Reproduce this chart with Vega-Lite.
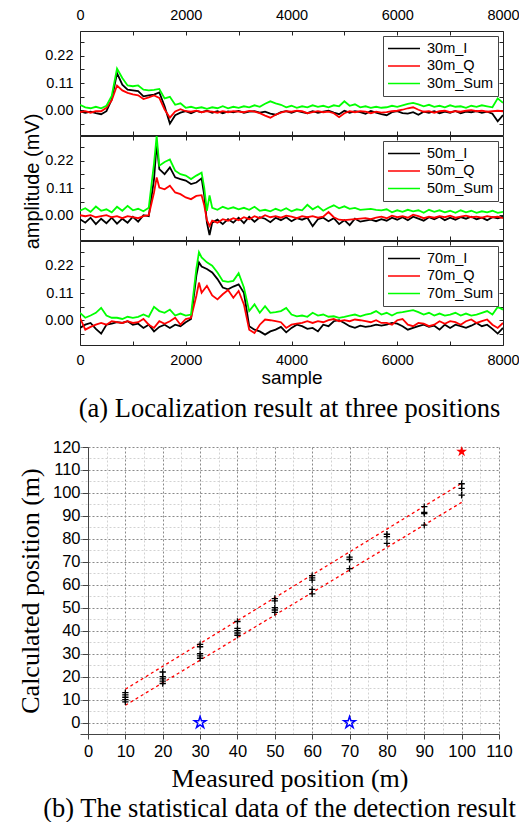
{
"$schema": "https://vega.github.io/schema/vega-lite/v6.json",
"background": "white",
"padding": {"left": 17, "top": 6, "right": 0, "bottom": 0},
"config": {
  "view": {"stroke": "#222", "strokeWidth": 1},
  "axis": {"labelFont": "Liberation Sans", "titleFont": "Liberation Sans", "labelColor": "#000", "titleColor": "#000", "tickColor": "#222", "domainColor": "#333", "titleFontWeight": "normal", "grid": false, "labelFlush": false, "labelOverlap": false},
  "legend": {"orient": "top-right", "offset": 5, "padding": 4, "strokeColor": "#444", "fillColor": "white", "labelFont": "Liberation Sans", "labelFontSize": 14.5, "labelColor": "#000", "symbolType": "stroke", "symbolSize": 1024, "symbolStrokeWidth": 1.5, "clipHeight": 17, "rowPadding": 0.5, "labelOffset": 6}
},
"title": {"text": "(b) The statistical data of the detection result", "orient": "bottom", "anchor": "middle", "font": "Liberation Serif", "fontSize": 26.5, "fontWeight": "normal", "color": "#000", "offset": 4, "dx": 11},
"resolve": {"scale": {"x": "independent", "y": "independent", "color": "independent"}},
"spacing": 7,
"vconcat": [
{
"spacing": 1,
"bounds": "flush",
"resolve": {"scale": {"x": "independent", "y": "independent", "color": "independent"}},
"vconcat": [
{
 "width": 423, "height": 104,
 "data": {"values": [
{"s":0,"30m_I":-0.004,"30m_Q":-0.008,"30m_Sum":0.022},
{"s":100,"30m_I":-0.010,"30m_Q":-0.004,"30m_Sum":0.012},
{"s":200,"30m_I":-0.006,"30m_Q":-0.010,"30m_Sum":0.008},
{"s":300,"30m_I":-0.012,"30m_Q":-0.004,"30m_Sum":0.014},
{"s":400,"30m_I":-0.016,"30m_Q":-0.004,"30m_Sum":0.008},
{"s":500,"30m_I":-0.004,"30m_Q":0.010,"30m_Sum":0.018},
{"s":600,"30m_I":0.043,"30m_Q":0.040,"30m_Sum":0.058},
{"s":700,"30m_I":0.150,"30m_Q":0.100,"30m_Sum":0.168},
{"s":800,"30m_I":0.103,"30m_Q":0.080,"30m_Sum":0.130},
{"s":900,"30m_I":0.083,"30m_Q":0.070,"30m_Sum":0.100},
{"s":1000,"30m_I":0.080,"30m_Q":0.064,"30m_Sum":0.097},
{"s":1100,"30m_I":0.077,"30m_Q":0.060,"30m_Sum":0.100},
{"s":1200,"30m_I":0.056,"30m_Q":0.045,"30m_Sum":0.083},
{"s":1300,"30m_I":0.060,"30m_Q":0.052,"30m_Sum":0.080},
{"s":1400,"30m_I":0.063,"30m_Q":0.060,"30m_Sum":0.082},
{"s":1500,"30m_I":0.072,"30m_Q":0.050,"30m_Sum":0.086},
{"s":1600,"30m_I":0.016,"30m_Q":0.003,"30m_Sum":0.048},
{"s":1700,"30m_I":-0.054,"30m_Q":-0.030,"30m_Sum":0.054},
{"s":1800,"30m_I":-0.020,"30m_Q":-0.005,"30m_Sum":0.022},
{"s":1900,"30m_I":-0.010,"30m_Q":0.004,"30m_Sum":0.028},
{"s":2000,"30m_I":-0.004,"30m_Q":-0.004,"30m_Sum":0.010},
{"s":2100,"30m_I":-0.012,"30m_Q":-0.006,"30m_Sum":0.014},
{"s":2200,"30m_I":-0.003,"30m_Q":-0.002,"30m_Sum":0.008},
{"s":2300,"30m_I":-0.008,"30m_Q":-0.008,"30m_Sum":0.012},
{"s":2400,"30m_I":-0.002,"30m_Q":-0.004,"30m_Sum":0.006},
{"s":2500,"30m_I":-0.010,"30m_Q":-0.006,"30m_Sum":0.012},
{"s":2600,"30m_I":-0.004,"30m_Q":-0.010,"30m_Sum":0.008},
{"s":2700,"30m_I":-0.012,"30m_Q":-0.004,"30m_Sum":0.016},
{"s":2800,"30m_I":-0.005,"30m_Q":-0.008,"30m_Sum":0.008},
{"s":2900,"30m_I":-0.008,"30m_Q":-0.004,"30m_Sum":0.014},
{"s":3000,"30m_I":-0.003,"30m_Q":-0.006,"30m_Sum":0.010},
{"s":3100,"30m_I":-0.010,"30m_Q":-0.008,"30m_Sum":0.016},
{"s":3200,"30m_I":-0.006,"30m_Q":-0.003,"30m_Sum":0.012},
{"s":3300,"30m_I":-0.004,"30m_Q":-0.006,"30m_Sum":0.020},
{"s":3400,"30m_I":-0.010,"30m_Q":-0.012,"30m_Sum":0.014},
{"s":3500,"30m_I":-0.006,"30m_Q":-0.022,"30m_Sum":0.026},
{"s":3600,"30m_I":-0.014,"30m_Q":-0.030,"30m_Sum":0.036},
{"s":3700,"30m_I":-0.018,"30m_Q":-0.018,"30m_Sum":0.028},
{"s":3800,"30m_I":-0.008,"30m_Q":-0.010,"30m_Sum":0.022},
{"s":3900,"30m_I":-0.004,"30m_Q":-0.004,"30m_Sum":0.012},
{"s":4000,"30m_I":-0.010,"30m_Q":-0.006,"30m_Sum":0.018},
{"s":4100,"30m_I":-0.003,"30m_Q":-0.002,"30m_Sum":0.010},
{"s":4200,"30m_I":-0.008,"30m_Q":-0.004,"30m_Sum":0.016},
{"s":4300,"30m_I":-0.012,"30m_Q":-0.012,"30m_Sum":0.012},
{"s":4400,"30m_I":-0.004,"30m_Q":-0.008,"30m_Sum":0.020},
{"s":4500,"30m_I":-0.010,"30m_Q":-0.004,"30m_Sum":0.014},
{"s":4600,"30m_I":-0.006,"30m_Q":-0.008,"30m_Sum":0.018},
{"s":4700,"30m_I":-0.002,"30m_Q":-0.006,"30m_Sum":0.012},
{"s":4800,"30m_I":-0.010,"30m_Q":-0.012,"30m_Sum":0.020},
{"s":4900,"30m_I":-0.016,"30m_Q":-0.028,"30m_Sum":0.016},
{"s":5000,"30m_I":-0.002,"30m_Q":-0.012,"30m_Sum":0.036},
{"s":5100,"30m_I":-0.010,"30m_Q":-0.004,"30m_Sum":0.018},
{"s":5200,"30m_I":-0.004,"30m_Q":-0.008,"30m_Sum":0.024},
{"s":5300,"30m_I":-0.008,"30m_Q":-0.004,"30m_Sum":0.012},
{"s":5400,"30m_I":-0.014,"30m_Q":-0.006,"30m_Sum":0.016},
{"s":5500,"30m_I":-0.003,"30m_Q":-0.012,"30m_Sum":0.010},
{"s":5600,"30m_I":-0.010,"30m_Q":-0.006,"30m_Sum":0.014},
{"s":5700,"30m_I":-0.016,"30m_Q":-0.010,"30m_Sum":0.010},
{"s":5800,"30m_I":-0.020,"30m_Q":-0.008,"30m_Sum":0.012},
{"s":5900,"30m_I":-0.008,"30m_Q":-0.004,"30m_Sum":0.018},
{"s":6000,"30m_I":-0.004,"30m_Q":-0.002,"30m_Sum":0.014},
{"s":6100,"30m_I":-0.012,"30m_Q":0.002,"30m_Sum":0.020},
{"s":6200,"30m_I":-0.014,"30m_Q":0.008,"30m_Sum":0.026},
{"s":6300,"30m_I":-0.008,"30m_Q":0.012,"30m_Sum":0.030},
{"s":6400,"30m_I":-0.018,"30m_Q":0.002,"30m_Sum":0.024},
{"s":6500,"30m_I":-0.006,"30m_Q":-0.006,"30m_Sum":0.016},
{"s":6600,"30m_I":-0.010,"30m_Q":-0.004,"30m_Sum":0.022},
{"s":6700,"30m_I":-0.004,"30m_Q":-0.010,"30m_Sum":0.014},
{"s":6800,"30m_I":-0.012,"30m_Q":-0.004,"30m_Sum":0.018},
{"s":6900,"30m_I":-0.006,"30m_Q":-0.002,"30m_Sum":0.012},
{"s":7000,"30m_I":-0.010,"30m_Q":-0.008,"30m_Sum":0.020},
{"s":7100,"30m_I":-0.003,"30m_Q":-0.004,"30m_Sum":0.014},
{"s":7200,"30m_I":-0.012,"30m_Q":-0.006,"30m_Sum":0.016},
{"s":7300,"30m_I":-0.006,"30m_Q":-0.002,"30m_Sum":0.010},
{"s":7400,"30m_I":-0.008,"30m_Q":0.000,"30m_Sum":0.018},
{"s":7500,"30m_I":-0.004,"30m_Q":-0.004,"30m_Sum":0.014},
{"s":7600,"30m_I":-0.010,"30m_Q":-0.002,"30m_Sum":0.020},
{"s":7700,"30m_I":-0.006,"30m_Q":-0.006,"30m_Sum":0.016},
{"s":7800,"30m_I":-0.014,"30m_Q":-0.004,"30m_Sum":0.012},
{"s":7900,"30m_I":-0.045,"30m_Q":-0.002,"30m_Sum":0.048},
{"s":8000,"30m_I":-0.020,"30m_Q":-0.004,"30m_Sum":0.030}
 ]},
 "transform": [{"fold": ["30m_I", "30m_Q", "30m_Sum"], "as": ["k", "v"]}],
 "layer": [
  {"mark": {"type": "line", "strokeWidth": 1.8, "clip": true},
   "encoding": {
    "x": {"field": "s", "type": "quantitative", "scale": {"domain": [0, 8000], "nice": false}, "axis": {"orient": "top", "values": [0,1000,2000,3000,4000,5000,6000,7000,8000], "labelExpr": "datum.value % 2000 === 0 ? format(datum.value, 'd') : ''", "labelOverlap": false, "tickSize": -4, "labelPadding": 13, "domain": false, "title": null, "labelFontSize": 14.5}},
    "y": {"field": "v", "type": "quantitative", "scale": {"domain": [-0.1, 0.32], "nice": false, "zero": false}, "axis": {"orient": "left", "values": [-0.055,0,0.055,0.11,0.165,0.22,0.275], "labelExpr": "round(datum.value*1000) % 110 === 0 ? format(datum.value, '.2f') : ''", "labelOverlap": false, "tickSize": -4, "labelPadding": 11, "domain": false, "title": null, "labelFontSize": 14.5}},
    "color": {"field": "k", "type": "nominal", "scale": {"domain": ["30m_I", "30m_Q", "30m_Sum"], "range": ["#000000", "#ff0000", "#00ff00"]}, "legend": {"title": null}}
   }},
  {"mark": {"type": "line", "opacity": 0},
   "encoding": {
    "x": {"field": "s", "type": "quantitative", "axis": {"orient": "bottom", "values": [0,1000,2000,3000,4000,5000,6000,7000,8000], "labels": false, "tickSize": -4, "domain": false, "title": null}},
    "y": {"field": "v", "type": "quantitative", "axis": {"orient": "right", "values": [-0.055,0,0.055,0.11,0.165,0.22,0.275], "labels": false, "tickSize": -4, "domain": false, "title": null}}
   }}
 ],
 "resolve": {"axis": {"x": "independent", "y": "independent"}}
},
{
 "width": 423, "height": 104,
 "data": {"values": [
{"s":0,"50m_I":-0.016,"50m_Q":0.000,"50m_Sum":0.018},
{"s":100,"50m_I":-0.030,"50m_Q":-0.004,"50m_Sum":0.028},
{"s":200,"50m_I":-0.010,"50m_Q":0.000,"50m_Sum":0.014},
{"s":300,"50m_I":-0.036,"50m_Q":-0.008,"50m_Sum":0.035},
{"s":400,"50m_I":-0.014,"50m_Q":-0.004,"50m_Sum":0.018},
{"s":500,"50m_I":-0.032,"50m_Q":0.000,"50m_Sum":0.024},
{"s":600,"50m_I":-0.010,"50m_Q":-0.008,"50m_Sum":0.012},
{"s":700,"50m_I":-0.034,"50m_Q":-0.004,"50m_Sum":0.034},
{"s":800,"50m_I":-0.014,"50m_Q":-0.012,"50m_Sum":0.018},
{"s":900,"50m_I":-0.030,"50m_Q":-0.004,"50m_Sum":0.038},
{"s":1000,"50m_I":-0.006,"50m_Q":-0.008,"50m_Sum":0.020},
{"s":1100,"50m_I":-0.026,"50m_Q":-0.012,"50m_Sum":0.026},
{"s":1200,"50m_I":0.000,"50m_Q":-0.004,"50m_Sum":0.016},
{"s":1300,"50m_I":-0.004,"50m_Q":0.000,"50m_Sum":0.030},
{"s":1400,"50m_I":0.146,"50m_Q":0.092,"50m_Sum":0.210},
{"s":1450,"50m_I":0.288,"50m_Q":0.153,"50m_Sum":0.320},
{"s":1500,"50m_I":0.186,"50m_Q":0.112,"50m_Sum":0.200},
{"s":1600,"50m_I":0.166,"50m_Q":0.105,"50m_Sum":0.215},
{"s":1700,"50m_I":0.193,"50m_Q":0.119,"50m_Sum":0.225},
{"s":1800,"50m_I":0.153,"50m_Q":0.092,"50m_Sum":0.180},
{"s":1900,"50m_I":0.146,"50m_Q":0.085,"50m_Sum":0.166},
{"s":2000,"50m_I":0.140,"50m_Q":0.072,"50m_Sum":0.160},
{"s":2100,"50m_I":0.126,"50m_Q":0.065,"50m_Sum":0.146},
{"s":2200,"50m_I":0.132,"50m_Q":0.078,"50m_Sum":0.160},
{"s":2300,"50m_I":0.149,"50m_Q":0.081,"50m_Sum":0.172},
{"s":2350,"50m_I":0.080,"50m_Q":0.040,"50m_Sum":0.110},
{"s":2400,"50m_I":-0.030,"50m_Q":-0.020,"50m_Sum":0.018},
{"s":2450,"50m_I":-0.080,"50m_Q":-0.043,"50m_Sum":0.080},
{"s":2500,"50m_I":-0.030,"50m_Q":-0.022,"50m_Sum":0.030},
{"s":2600,"50m_I":-0.018,"50m_Q":-0.030,"50m_Sum":0.022},
{"s":2700,"50m_I":-0.036,"50m_Q":-0.016,"50m_Sum":0.034},
{"s":2800,"50m_I":-0.016,"50m_Q":-0.022,"50m_Sum":0.026},
{"s":2900,"50m_I":-0.030,"50m_Q":-0.012,"50m_Sum":0.032},
{"s":3000,"50m_I":-0.010,"50m_Q":-0.020,"50m_Sum":0.024},
{"s":3100,"50m_I":-0.032,"50m_Q":-0.008,"50m_Sum":0.030},
{"s":3200,"50m_I":-0.006,"50m_Q":-0.016,"50m_Sum":0.022},
{"s":3300,"50m_I":-0.026,"50m_Q":-0.004,"50m_Sum":0.034},
{"s":3400,"50m_I":-0.008,"50m_Q":-0.012,"50m_Sum":0.018},
{"s":3500,"50m_I":-0.014,"50m_Q":0.000,"50m_Sum":0.022},
{"s":3600,"50m_I":-0.028,"50m_Q":-0.008,"50m_Sum":0.016},
{"s":3700,"50m_I":-0.010,"50m_Q":-0.004,"50m_Sum":0.026},
{"s":3800,"50m_I":-0.020,"50m_Q":-0.010,"50m_Sum":0.018},
{"s":3900,"50m_I":-0.008,"50m_Q":-0.002,"50m_Sum":0.028},
{"s":4000,"50m_I":-0.024,"50m_Q":-0.006,"50m_Sum":0.016},
{"s":4100,"50m_I":-0.012,"50m_Q":-0.012,"50m_Sum":0.024},
{"s":4200,"50m_I":-0.018,"50m_Q":-0.004,"50m_Sum":0.020},
{"s":4300,"50m_I":-0.010,"50m_Q":-0.008,"50m_Sum":0.042},
{"s":4400,"50m_I":-0.044,"50m_Q":-0.004,"50m_Sum":0.024},
{"s":4500,"50m_I":-0.016,"50m_Q":-0.010,"50m_Sum":0.036},
{"s":4600,"50m_I":-0.010,"50m_Q":-0.006,"50m_Sum":0.018},
{"s":4700,"50m_I":-0.024,"50m_Q":0.013,"50m_Sum":0.030},
{"s":4800,"50m_I":-0.012,"50m_Q":-0.008,"50m_Sum":0.040},
{"s":4900,"50m_I":-0.036,"50m_Q":-0.018,"50m_Sum":0.028},
{"s":5000,"50m_I":-0.020,"50m_Q":-0.020,"50m_Sum":0.036},
{"s":5100,"50m_I":-0.040,"50m_Q":-0.018,"50m_Sum":0.026},
{"s":5200,"50m_I":-0.014,"50m_Q":-0.016,"50m_Sum":0.030},
{"s":5300,"50m_I":-0.026,"50m_Q":-0.014,"50m_Sum":0.022},
{"s":5400,"50m_I":-0.022,"50m_Q":-0.012,"50m_Sum":0.024},
{"s":5500,"50m_I":-0.018,"50m_Q":-0.016,"50m_Sum":0.026},
{"s":5600,"50m_I":-0.024,"50m_Q":-0.010,"50m_Sum":0.022},
{"s":5700,"50m_I":-0.016,"50m_Q":-0.006,"50m_Sum":0.020},
{"s":5800,"50m_I":-0.022,"50m_Q":-0.012,"50m_Sum":0.024},
{"s":5900,"50m_I":-0.010,"50m_Q":-0.002,"50m_Sum":0.012},
{"s":6000,"50m_I":-0.018,"50m_Q":-0.008,"50m_Sum":0.020},
{"s":6100,"50m_I":-0.008,"50m_Q":-0.004,"50m_Sum":0.014},
{"s":6200,"50m_I":-0.020,"50m_Q":-0.010,"50m_Sum":0.022},
{"s":6300,"50m_I":-0.006,"50m_Q":0.002,"50m_Sum":0.016},
{"s":6400,"50m_I":-0.014,"50m_Q":-0.004,"50m_Sum":0.020},
{"s":6500,"50m_I":-0.022,"50m_Q":-0.012,"50m_Sum":0.010},
{"s":6600,"50m_I":-0.008,"50m_Q":-0.006,"50m_Sum":0.022},
{"s":6700,"50m_I":-0.016,"50m_Q":-0.010,"50m_Sum":0.014},
{"s":6800,"50m_I":-0.006,"50m_Q":-0.004,"50m_Sum":0.020},
{"s":6900,"50m_I":-0.020,"50m_Q":-0.008,"50m_Sum":0.012},
{"s":7000,"50m_I":-0.010,"50m_Q":-0.002,"50m_Sum":0.018},
{"s":7100,"50m_I":-0.018,"50m_Q":-0.010,"50m_Sum":0.010},
{"s":7200,"50m_I":-0.008,"50m_Q":-0.006,"50m_Sum":0.020},
{"s":7300,"50m_I":-0.014,"50m_Q":-0.002,"50m_Sum":0.012},
{"s":7400,"50m_I":-0.006,"50m_Q":-0.008,"50m_Sum":0.018},
{"s":7500,"50m_I":-0.016,"50m_Q":-0.006,"50m_Sum":0.010},
{"s":7600,"50m_I":-0.010,"50m_Q":-0.010,"50m_Sum":0.016},
{"s":7700,"50m_I":-0.020,"50m_Q":-0.004,"50m_Sum":0.012},
{"s":7800,"50m_I":-0.008,"50m_Q":-0.008,"50m_Sum":0.018},
{"s":7900,"50m_I":-0.012,"50m_Q":-0.006,"50m_Sum":0.010},
{"s":8000,"50m_I":-0.006,"50m_Q":-0.012,"50m_Sum":0.014}
 ]},
 "transform": [{"fold": ["50m_I", "50m_Q", "50m_Sum"], "as": ["k", "v"]}],
 "layer": [
  {"mark": {"type": "line", "strokeWidth": 1.8, "clip": true},
   "encoding": {
    "x": {"field": "s", "type": "quantitative", "scale": {"domain": [0, 8000], "nice": false}, "axis": {"orient": "top", "values": [0,1000,2000,3000,4000,5000,6000,7000,8000], "labels": false, "tickSize": -4, "domain": false, "title": null}},
    "y": {"field": "v", "type": "quantitative", "scale": {"domain": [-0.1, 0.32], "nice": false, "zero": false}, "axis": {"orient": "left", "values": [-0.055,0,0.055,0.11,0.165,0.22,0.275], "labelExpr": "round(datum.value*1000) % 110 === 0 ? format(datum.value, '.2f') : ''", "labelOverlap": false, "tickSize": -4, "labelPadding": 11, "domain": false, "labelFontSize": 14.5, "title": "amplitude (mV)", "titleFontSize": 20, "titlePadding": 2, "titleY": 45}},
    "color": {"field": "k", "type": "nominal", "scale": {"domain": ["50m_I", "50m_Q", "50m_Sum"], "range": ["#000000", "#ff0000", "#00ff00"]}, "legend": {"title": null}}
   }},
  {"mark": {"type": "line", "opacity": 0},
   "encoding": {
    "x": {"field": "s", "type": "quantitative", "axis": {"orient": "bottom", "values": [0,1000,2000,3000,4000,5000,6000,7000,8000], "labels": false, "tickSize": -4, "domain": false, "title": null}},
    "y": {"field": "v", "type": "quantitative", "axis": {"orient": "right", "values": [-0.055,0,0.055,0.11,0.165,0.22,0.275], "labels": false, "tickSize": -4, "domain": false, "title": null}}
   }}
 ],
 "resolve": {"axis": {"x": "independent", "y": "independent"}}
},
{
 "width": 423, "height": 104,
 "data": {"values": [
{"s":0,"70m_I":-0.031,"70m_Q":0.010,"70m_Sum":0.030},
{"s":100,"70m_I":-0.018,"70m_Q":-0.038,"70m_Sum":0.010},
{"s":200,"70m_I":-0.011,"70m_Q":-0.027,"70m_Sum":0.019},
{"s":300,"70m_I":-0.035,"70m_Q":-0.018,"70m_Sum":0.030},
{"s":400,"70m_I":-0.054,"70m_Q":-0.011,"70m_Sum":0.050},
{"s":500,"70m_I":-0.018,"70m_Q":-0.018,"70m_Sum":0.019},
{"s":600,"70m_I":-0.014,"70m_Q":-0.004,"70m_Sum":0.010},
{"s":700,"70m_I":-0.008,"70m_Q":-0.008,"70m_Sum":0.010},
{"s":800,"70m_I":-0.011,"70m_Q":-0.011,"70m_Sum":0.005},
{"s":900,"70m_I":-0.004,"70m_Q":-0.004,"70m_Sum":0.014},
{"s":1000,"70m_I":-0.018,"70m_Q":-0.011,"70m_Sum":0.010},
{"s":1100,"70m_I":-0.014,"70m_Q":-0.008,"70m_Sum":0.014},
{"s":1200,"70m_I":-0.031,"70m_Q":0.005,"70m_Sum":0.023},
{"s":1300,"70m_I":-0.018,"70m_Q":-0.018,"70m_Sum":0.014},
{"s":1400,"70m_I":-0.045,"70m_Q":-0.031,"70m_Sum":0.054},
{"s":1500,"70m_I":-0.027,"70m_Q":-0.004,"70m_Sum":0.037},
{"s":1600,"70m_I":-0.018,"70m_Q":-0.014,"70m_Sum":0.030},
{"s":1700,"70m_I":-0.031,"70m_Q":-0.004,"70m_Sum":0.043},
{"s":1800,"70m_I":-0.018,"70m_Q":0.010,"70m_Sum":0.019},
{"s":1900,"70m_I":-0.024,"70m_Q":-0.018,"70m_Sum":0.027},
{"s":2000,"70m_I":-0.008,"70m_Q":0.005,"70m_Sum":0.019},
{"s":2100,"70m_I":0.005,"70m_Q":0.010,"70m_Sum":0.023},
{"s":2200,"70m_I":0.179,"70m_Q":0.098,"70m_Sum":0.207},
{"s":2250,"70m_I":0.234,"70m_Q":0.152,"70m_Sum":0.275},
{"s":2300,"70m_I":0.217,"70m_Q":0.111,"70m_Sum":0.254},
{"s":2400,"70m_I":0.207,"70m_Q":0.139,"70m_Sum":0.234},
{"s":2500,"70m_I":0.193,"70m_Q":0.100,"70m_Sum":0.220},
{"s":2600,"70m_I":0.166,"70m_Q":0.084,"70m_Sum":0.193},
{"s":2700,"70m_I":0.132,"70m_Q":0.105,"70m_Sum":0.159},
{"s":2800,"70m_I":0.125,"70m_Q":0.122,"70m_Sum":0.155},
{"s":2900,"70m_I":0.136,"70m_Q":0.091,"70m_Sum":0.159},
{"s":3000,"70m_I":0.145,"70m_Q":0.118,"70m_Sum":0.190},
{"s":3100,"70m_I":0.111,"70m_Q":0.064,"70m_Sum":0.132},
{"s":3200,"70m_I":-0.024,"70m_Q":-0.038,"70m_Sum":0.037},
{"s":3300,"70m_I":-0.038,"70m_Q":-0.052,"70m_Sum":0.064},
{"s":3400,"70m_I":-0.045,"70m_Q":-0.018,"70m_Sum":0.030},
{"s":3500,"70m_I":-0.058,"70m_Q":0.003,"70m_Sum":0.057},
{"s":3600,"70m_I":-0.045,"70m_Q":0.000,"70m_Sum":0.030},
{"s":3700,"70m_I":-0.038,"70m_Q":-0.004,"70m_Sum":0.033},
{"s":3800,"70m_I":-0.027,"70m_Q":-0.008,"70m_Sum":0.037},
{"s":3900,"70m_I":-0.049,"70m_Q":-0.031,"70m_Sum":0.050},
{"s":4000,"70m_I":-0.031,"70m_Q":-0.018,"70m_Sum":0.023},
{"s":4100,"70m_I":-0.018,"70m_Q":-0.014,"70m_Sum":0.016},
{"s":4200,"70m_I":-0.024,"70m_Q":-0.011,"70m_Sum":0.019},
{"s":4300,"70m_I":-0.035,"70m_Q":-0.004,"70m_Sum":0.014},
{"s":4400,"70m_I":-0.031,"70m_Q":-0.011,"70m_Sum":0.030},
{"s":4500,"70m_I":-0.045,"70m_Q":-0.004,"70m_Sum":0.019},
{"s":4600,"70m_I":-0.018,"70m_Q":-0.008,"70m_Sum":0.023},
{"s":4700,"70m_I":-0.024,"70m_Q":0.000,"70m_Sum":0.014},
{"s":4800,"70m_I":-0.004,"70m_Q":0.005,"70m_Sum":0.016},
{"s":4900,"70m_I":0.000,"70m_Q":-0.004,"70m_Sum":0.010},
{"s":5000,"70m_I":-0.011,"70m_Q":0.000,"70m_Sum":0.014},
{"s":5100,"70m_I":-0.024,"70m_Q":-0.004,"70m_Sum":0.019},
{"s":5200,"70m_I":-0.031,"70m_Q":0.003,"70m_Sum":0.023},
{"s":5300,"70m_I":-0.022,"70m_Q":0.000,"70m_Sum":0.016},
{"s":5400,"70m_I":-0.027,"70m_Q":-0.004,"70m_Sum":0.023},
{"s":5500,"70m_I":-0.024,"70m_Q":-0.008,"70m_Sum":0.027},
{"s":5600,"70m_I":-0.018,"70m_Q":0.000,"70m_Sum":0.037},
{"s":5700,"70m_I":-0.022,"70m_Q":-0.011,"70m_Sum":0.023},
{"s":5800,"70m_I":-0.018,"70m_Q":-0.011,"70m_Sum":0.030},
{"s":5900,"70m_I":-0.011,"70m_Q":-0.018,"70m_Sum":0.019},
{"s":6000,"70m_I":-0.014,"70m_Q":0.000,"70m_Sum":0.030},
{"s":6100,"70m_I":-0.024,"70m_Q":0.005,"70m_Sum":0.033},
{"s":6200,"70m_I":-0.038,"70m_Q":-0.018,"70m_Sum":0.037},
{"s":6300,"70m_I":-0.031,"70m_Q":-0.024,"70m_Sum":0.041},
{"s":6400,"70m_I":-0.024,"70m_Q":-0.011,"70m_Sum":0.033},
{"s":6500,"70m_I":-0.018,"70m_Q":-0.014,"70m_Sum":0.023},
{"s":6600,"70m_I":-0.027,"70m_Q":-0.024,"70m_Sum":0.030},
{"s":6700,"70m_I":-0.022,"70m_Q":-0.018,"70m_Sum":0.019},
{"s":6800,"70m_I":-0.038,"70m_Q":-0.004,"70m_Sum":0.027},
{"s":6900,"70m_I":-0.018,"70m_Q":-0.014,"70m_Sum":0.019},
{"s":7000,"70m_I":-0.031,"70m_Q":-0.004,"70m_Sum":0.023},
{"s":7100,"70m_I":-0.018,"70m_Q":-0.008,"70m_Sum":0.030},
{"s":7200,"70m_I":-0.024,"70m_Q":-0.018,"70m_Sum":0.019},
{"s":7300,"70m_I":-0.031,"70m_Q":-0.004,"70m_Sum":0.027},
{"s":7400,"70m_I":-0.022,"70m_Q":0.003,"70m_Sum":0.019},
{"s":7500,"70m_I":-0.011,"70m_Q":-0.011,"70m_Sum":0.023},
{"s":7600,"70m_I":-0.024,"70m_Q":-0.004,"70m_Sum":0.030},
{"s":7700,"70m_I":-0.018,"70m_Q":0.003,"70m_Sum":0.037},
{"s":7800,"70m_I":-0.035,"70m_Q":-0.018,"70m_Sum":0.023},
{"s":7900,"70m_I":-0.054,"70m_Q":-0.031,"70m_Sum":0.054},
{"s":8000,"70m_I":-0.031,"70m_Q":-0.011,"70m_Sum":0.043}
 ]},
 "transform": [{"fold": ["70m_I", "70m_Q", "70m_Sum"], "as": ["k", "v"]}],
 "layer": [
  {"mark": {"type": "line", "strokeWidth": 1.8, "clip": true},
   "encoding": {
    "x": {"field": "s", "type": "quantitative", "scale": {"domain": [0, 8000], "nice": false}, "axis": {"orient": "bottom", "values": [0,1000,2000,3000,4000,5000,6000,7000,8000], "labelExpr": "datum.value % 2000 === 0 ? format(datum.value, 'd') : ''", "labelOverlap": false, "tickSize": -4, "labelPadding": 12, "domain": false, "labelFontSize": 14.5, "title": "sample", "titleFontSize": 19, "titlePadding": 2}},
    "y": {"field": "v", "type": "quantitative", "scale": {"domain": [-0.1, 0.32], "nice": false, "zero": false}, "axis": {"orient": "left", "values": [-0.055,0,0.055,0.11,0.165,0.22,0.275], "labelExpr": "round(datum.value*1000) % 110 === 0 ? format(datum.value, '.2f') : ''", "labelOverlap": false, "tickSize": -4, "labelPadding": 11, "domain": false, "title": null, "labelFontSize": 14.5}},
    "color": {"field": "k", "type": "nominal", "scale": {"domain": ["70m_I", "70m_Q", "70m_Sum"], "range": ["#000000", "#ff0000", "#00ff00"]}, "legend": {"title": null}}
   }},
  {"mark": {"type": "line", "opacity": 0},
   "encoding": {
    "x": {"field": "s", "type": "quantitative", "axis": {"orient": "top", "values": [0,1000,2000,3000,4000,5000,6000,7000,8000], "labels": false, "tickSize": -4, "domain": false, "title": null}},
    "y": {"field": "v", "type": "quantitative", "axis": {"orient": "right", "values": [-0.055,0,0.055,0.11,0.165,0.22,0.275], "labels": false, "tickSize": -4, "domain": false, "title": null}}
   }}
 ],
 "resolve": {"axis": {"x": "independent", "y": "independent"}}
}
]
},
{
 "width": 419, "height": 287,
 "view": {"stroke": null},
 "title": {"text": "(a) Localization result at three positions", "font": "Liberation Serif", "fontSize": 26.5, "fontWeight": "normal", "color": "#000", "anchor": "middle", "offset": 17},
 "layer": [
  {"data": {"values": [
    {"g": "upper", "x": 10, "y": 14.5}, {"g": "upper", "x": 100, "y": 104.2},
    {"g": "lower", "x": 10, "y": 7.5}, {"g": "lower", "x": 100, "y": 95.9}
   ]},
   "mark": {"type": "line", "opacity": 0},
   "encoding": {
    "x": {"field": "x", "type": "quantitative", "scale": {"domain": [-2.14, 110], "nice": false, "zero": false},
      "axis": {"orient": "top", "values": [5,15,25,35,45,55,65,75,85,95,105], "labels": false, "ticks": false, "domain": false, "grid": true, "gridColor": "#d2d2d2", "gridDash": [2, 2], "title": null}},
    "y": {"field": "y", "type": "quantitative", "scale": {"domain": [-5, 120], "nice": false, "zero": false},
      "axis": {"orient": "right", "values": [5,15,25,35,45,55,65,75,85,95,105,115], "labels": false, "ticks": false, "domain": false, "grid": true, "gridColor": "#d2d2d2", "gridDash": [2, 2], "title": null}},
    "detail": {"field": "g"}
   }},
  {"data": {"values": [
    {"g": "upper", "x": 10, "y": 14.5}, {"g": "upper", "x": 100, "y": 104.2},
    {"g": "lower", "x": 10, "y": 7.5}, {"g": "lower", "x": 100, "y": 95.9}
   ]},
   "mark": {"type": "line", "color": "#ff0000", "strokeDash": [3, 3], "strokeWidth": 1.3},
   "encoding": {
    "x": {"field": "x", "type": "quantitative",
      "axis": {"orient": "bottom", "values": [0,10,20,30,40,50,60,70,80,90,100,110], "labelOverlap": false, "labelFontSize": 16.5, "tickSize": 5, "labelPadding": 4, "domain": true, "tickColor": "#444", "domainColor": "#444", "grid": true, "gridColor": "#8a8a8a", "gridDash": [2, 2], "title": "Measured position (m)", "titleFont": "Liberation Serif", "titleFontSize": 26, "titlePadding": 6}},
    "y": {"field": "y", "type": "quantitative",
      "axis": {"orient": "left", "offset": -8, "values": [0,10,20,30,40,50,60,70,80,90,100,110,120], "labelOverlap": false, "labelFontSize": 16.5, "tickSize": 6, "labelPadding": 2, "domain": true, "tickColor": "#444", "domainColor": "#444", "grid": true, "gridColor": "#8a8a8a", "gridDash": [2, 2], "title": "Calculated position (m)", "titleFont": "Liberation Serif", "titleFontSize": 26, "titlePadding": 9}},
    "detail": {"field": "g"}
   }},
  {"data": {"values": [
    {"x": 10, "y": 13}, {"x": 10, "y": 12}, {"x": 10, "y": 11}, {"x": 10, "y": 10}, {"x": 10, "y": 9},
    {"x": 20, "y": 22}, {"x": 20, "y": 20}, {"x": 20, "y": 19}, {"x": 20, "y": 18}, {"x": 20, "y": 17},
    {"x": 30, "y": 34}, {"x": 30, "y": 33}, {"x": 30, "y": 30}, {"x": 30, "y": 29}, {"x": 30, "y": 28},
    {"x": 40, "y": 44}, {"x": 40, "y": 41}, {"x": 40, "y": 40}, {"x": 40, "y": 39}, {"x": 40, "y": 38},
    {"x": 50, "y": 54}, {"x": 50, "y": 53}, {"x": 50, "y": 50}, {"x": 50, "y": 49}, {"x": 50, "y": 48},
    {"x": 60, "y": 64}, {"x": 60, "y": 63}, {"x": 60, "y": 62}, {"x": 60, "y": 58}, {"x": 60, "y": 56},
    {"x": 70, "y": 72}, {"x": 70, "y": 71}, {"x": 70, "y": 67},
    {"x": 80, "y": 82}, {"x": 80, "y": 81}, {"x": 80, "y": 78},
    {"x": 90, "y": 94}, {"x": 90, "y": 91.5}, {"x": 90, "y": 91}, {"x": 90, "y": 86},
    {"x": 100, "y": 104}, {"x": 100, "y": 102}, {"x": 100, "y": 99}
   ]},
   "mark": {"type": "point", "shape": "M-1,0L1,0M0,-1L0,1", "filled": false, "color": "#000000", "size": 40, "strokeWidth": 1.3, "opacity": 1},
   "encoding": {"x": {"field": "x", "type": "quantitative", "axis": null}, "y": {"field": "y", "type": "quantitative", "axis": null}}},
  {"data": {"values": [{"x": 100, "y": 118}]},
   "mark": {"type": "point", "shape": "M0,-1L0.225,-0.309L0.951,-0.309L0.363,0.118L0.588,0.809L0,0.382L-0.588,0.809L-0.363,0.118L-0.951,-0.309L-0.225,-0.309Z", "filled": true, "color": "#ff0000", "size": 130, "opacity": 1},
   "encoding": {"x": {"field": "x", "type": "quantitative", "axis": null}, "y": {"field": "y", "type": "quantitative", "axis": null}}},
  {"data": {"values": [{"x": 30, "y": 0}, {"x": 70, "y": 0}]},
   "mark": {"type": "point", "shape": "M0,-1L0.225,-0.309L0.951,-0.309L0.363,0.118L0.588,0.809L0,0.382L-0.588,0.809L-0.363,0.118L-0.951,-0.309L-0.225,-0.309Z", "filled": true, "fill": "#ffffff", "stroke": "#0000ff", "strokeWidth": 1.5, "size": 150, "opacity": 1},
   "encoding": {"x": {"field": "x", "type": "quantitative", "axis": null}, "y": {"field": "y", "type": "quantitative", "axis": null}}}
 ],
 "resolve": {"axis": {"x": "independent", "y": "independent"}}
}
]
}
